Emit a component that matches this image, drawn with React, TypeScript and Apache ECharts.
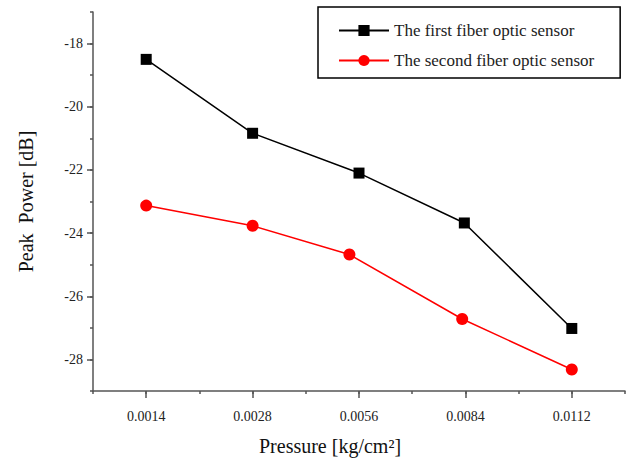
import React, { useEffect, useRef } from "react";
import * as echarts from "echarts";

const categories = ["0.0014", "0.0028", "0.0056", "0.0084", "0.0112"];
const firstX = [1, 2, 3, 3.99, 5];
const firstY = [-18.5, -20.84, -22.1, -23.68, -27.02];
const secondX = [1, 2, 2.91, 3.97, 5];
const secondY = [-23.13, -23.77, -24.68, -26.72, -28.32];
const yLabelValues = [-28, -26, -24, -22, -20, -18];
const xLabelValues = [1, 2, 3, 4, 5];

const FONT = "'Liberation Serif', 'Times New Roman', serif";
const AXIS_COLOR = "#555";

export default function App() {
  const ref = useRef<HTMLDivElement>(null);
  useEffect(() => {
    if (!ref.current) return;
    const chart = echarts.init(ref.current, null, { renderer: "svg" });
    const firstData = firstX.map((x, i) => [x, firstY[i]]);
    const secondData = secondX.map((x, i) => [x, secondY[i]]);
    chart.setOption({
      animation: false,
      textStyle: { fontFamily: FONT },
      grid: { left: 93, right: 3, top: 12, bottom: 70, containLabel: false, outerBoundsMode: "none" },
      legend: {
        orient: "vertical",
        left: 318,
        top: 7,
        padding: [15, 26, 9, 20],
        itemGap: 13,
        itemWidth: 50,
        itemHeight: 14,
        borderColor: "#000",
        borderWidth: 1.5,
        textStyle: { fontFamily: FONT, fontSize: 17, color: "#222" },
        data: ["The first fiber optic sensor", "The second fiber optic sensor"],
      },
      xAxis: [
        {
          type: "value",
          min: 0.5,
          max: 5.5,
          interval: 0.5,
          name: "Pressure [kg/cm²]",
          nameLocation: "middle",
          nameGap: 45,
          nameTextStyle: { fontFamily: FONT, fontSize: 20, color: "#111", padding: [0, 58, 0, 0] },
          axisLine: { show: true, lineStyle: { color: AXIS_COLOR, width: 1.5 } },
          axisTick: { show: true, length: 3, lineStyle: { color: AXIS_COLOR, width: 1.5 } },
          axisLabel: { show: false },
          splitLine: { show: false },
        },
        {
          type: "value",
          position: "bottom",
          min: 0.5,
          max: 5.5,
          axisLine: { show: false },
          axisTick: {
            show: true,
            length: 7,
            customValues: xLabelValues,
            lineStyle: { color: AXIS_COLOR, width: 1.5 },
          },
          axisLabel: {
            show: true,
            customValues: xLabelValues,
            margin: 18,
            fontFamily: FONT,
            fontSize: 14,
            color: "#222",
            formatter: (v: number) => categories[Math.round(v) - 1] ?? "",
          },
          splitLine: { show: false },
        },
      ],
      yAxis: [
        {
          type: "value",
          min: -29,
          max: -17,
          interval: 1,
          name: "Peak  Power [dB]",
          nameLocation: "middle",
          nameGap: 57,
          nameTextStyle: { fontFamily: FONT, fontSize: 20, color: "#111" },
          axisLine: { show: true, lineStyle: { color: AXIS_COLOR, width: 1.5 } },
          axisTick: { show: true, length: 3, lineStyle: { color: AXIS_COLOR, width: 1.5 } },
          axisLabel: { show: false },
          splitLine: { show: false },
        },
        {
          type: "value",
          position: "left",
          min: -29,
          max: -17,
          axisLine: { show: false },
          axisTick: {
            show: true,
            length: 6,
            customValues: yLabelValues,
            lineStyle: { color: AXIS_COLOR, width: 1.5 },
          },
          axisLabel: {
            show: true,
            customValues: yLabelValues,
            margin: 10,
            fontFamily: FONT,
            fontSize: 14,
            color: "#222",
          },
          splitLine: { show: false },
        },
      ],
      series: [
        {
          name: "The first fiber optic sensor",
          type: "line",
          xAxisIndex: 0,
          yAxisIndex: 0,
          data: firstData,
          symbol: "rect",
          symbolSize: 11,
          lineStyle: { color: "#000", width: 1.5 },
          itemStyle: { color: "#000" },
        },
        {
          name: "The second fiber optic sensor",
          type: "line",
          xAxisIndex: 0,
          yAxisIndex: 0,
          data: secondData,
          symbol: "circle",
          symbolSize: 12,
          lineStyle: { color: "#ff0000", width: 1.5 },
          itemStyle: { color: "#ff0000" },
        },
      ],
    });
    return () => chart.dispose();
  }, []);
  return <div ref={ref} style={{ width: 628, height: 461, position: "absolute", left: 0, top: 0 }} />;
}
